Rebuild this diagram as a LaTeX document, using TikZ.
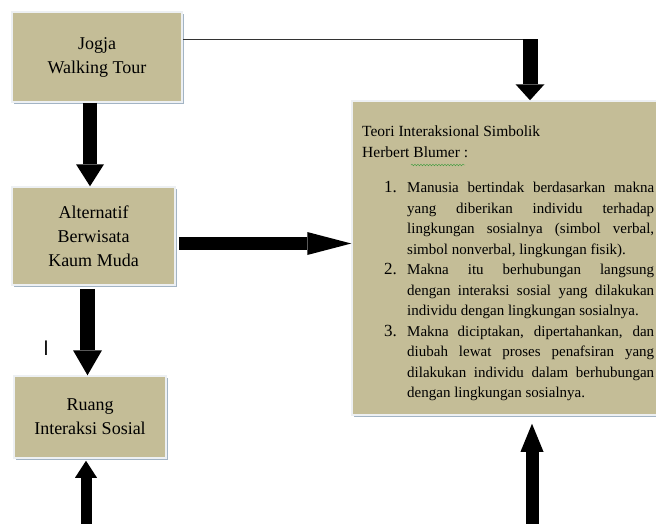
\documentclass[tikz,border=0pt]{standalone}
\usepackage{fontspec}
\setmainfont{Liberation Serif}
\usetikzlibrary{arrows.meta,shadows,decorations.pathmorphing}
\definecolor{tanbox}{HTML}{C4BD97}
\definecolor{boxshade}{HTML}{A3B4C4}
\definecolor{boxrim}{HTML}{EDF0F3}
\definecolor{squiggle}{HTML}{3C9A3C}
\newcommand{\teoripoint}[2]{\par\hangindent=45pt\hangafter=0\noindent\llap{\makebox[23pt][l]{\fontsize{17}{20.5}\selectfont#1.}}#2\par}

\begin{document}
\begin{tikzpicture}[x=1pt,y=-1pt,
			box/.style={
				rectangle,
				fill=tanbox,
				draw=boxrim,
				line width=1.5pt,
				align=center,
				inner sep=0pt,
				font=\fontsize{18}{24}\selectfont,
				drop shadow={shadow xshift=1.5pt, shadow yshift=-1.5pt, fill=boxshade, opacity=1}},
			blockarrow/.style n args={3}{
				line width=#1,
				-{Triangle[width=#2,length=#3,line width=0pt]}}]
			\useasboundingbox (0,0) rectangle (656,523);
			\clip (0,0) rectangle (656,523);
			\node[box, minimum width=170pt, minimum height=90pt] (jogja) at (97,57) {Jogja\\Walking Tour};
			\node[box, minimum width=163pt, minimum height=98pt] (alternatif) at (93.5,236) {Alternatif\\Berwisata\\Kaum Muda};
			\node[box, minimum width=152pt, minimum height=82pt] (ruang) at (90,417) {Ruang\\Interaksi Sosial};
			\node[box, minimum width=312pt, minimum height=314pt] (teori) at (508,258) {};
			\node[anchor=north west, text width=292pt, align=justify, inner sep=0pt,
				font=\fontsize{15.5}{20.5}\selectfont] (teoritext) at (362,126) {%
				Teori Interaksional Simbolik\\Herbert Blumer :\par
				\vspace{15pt}
				\fontsize{15}{20.5}\selectfont
				\teoripoint{1}{Manusia bertindak berdasarkan makna\linebreak yang diberikan individu terhadap\linebreak lingkungan sosialnya (simbol verbal,\linebreak simbol nonverbal, lingkungan fisik).}
				\teoripoint{2}{Makna itu berhubungan langsung\linebreak dengan interaksi sosial yang dilakukan\linebreak individu dengan lingkungan sosialnya.}
				\teoripoint{3}{Makna diciptakan, dipertahankan, dan\linebreak diubah lewat proses penafsiran yang\linebreak dilakukan individu dalam berhubungan\linebreak dengan lingkungan sosialnya.}};
			\draw[squiggle, decorate, decoration={snake, amplitude=0.8pt, segment length=3pt}] (411,165) -- (465,165);
			\node[font=\sffamily\fontsize{21}{21}\selectfont, inner sep=0pt] (caret) at (46,348) {I};
			% arrows
			\coordinate (knee) at (530,39);
			\coordinate (ruangfoot) at (86,530);
			\coordinate (teorifoot) at (532,530);
			\draw[line width=1pt, black!80] ([yshift=18pt]jogja.east) -- ([xshift=7.5pt]knee);
			\draw[blockarrow={15pt}{29pt}{16pt}] (knee) -- (knee |- teori.north);
			\draw[blockarrow={14pt}{28pt}{22pt}] ([xshift=-7pt]jogja.south) -- ([xshift=-7pt]jogja.south |- alternatif.north);
			\draw[blockarrow={13pt}{23pt}{44pt}] ([xshift=3pt,yshift=-7.5pt]alternatif.east) -- ([yshift=-7.5pt]alternatif.east -| teori.west);
			\draw[blockarrow={15pt}{29pt}{25pt}] ([xshift=-6pt,yshift=-3pt]alternatif.south) -- ([xshift=-6pt]alternatif.south |- ruang.north);
			\draw[blockarrow={11pt}{22pt}{17pt}] (ruangfoot) -- ([yshift=-2pt]ruangfoot |- ruang.south);
			\draw[blockarrow={13pt}{23pt}{28pt}] (teorifoot) -- ([yshift=-8pt]teorifoot |- teori.south);
\end{tikzpicture}
\end{document}
